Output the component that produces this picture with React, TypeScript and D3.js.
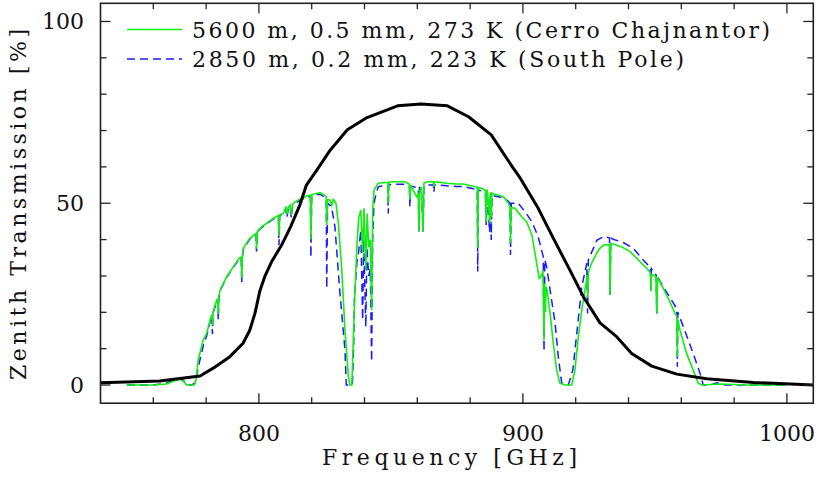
import React from "react";
import * as d3 from "d3";

// Filter / reference transmission (black)
const filterCurve: [number, number][] = [
  [740, 0.6], [762.5, 1.1], [777.7, 2.5], [783.5, 5], [789, 7.8], [794, 11.5], [796.5, 15],
  [798.5, 19.7], [800.3, 25.7], [802.2, 29.8], [804.8, 33.9], [808.6, 38.5], [812, 43.5],
  [815.5, 49.5], [818, 55], [822, 59.2], [827, 64.6], [833.5, 70.2],
  [840.5, 73.4], [852.5, 76.8], [861.4, 77.3], [871.4, 76.8], [879.4, 73.8], [888, 68.8],
  [896, 60], [899, 56.9], [905.8, 48.6], [911.5, 40.4], [917.8, 31.6], [922.9, 24.3],
  [929.2, 17.1], [935.5, 13.3], [941.2, 8.7], [948.8, 5.2], [958.3, 3], [969.6, 1.7],
  [987.3, 0.7], [1010, 0],
];

// 5600 m, 0.5 mm, 273 K (Cerro Chajnantor) — green
const chajnantor: [number, number][] = [
  [750, 0], [760, 0], [765, 0.3], [768, 1.2], [770, 1.6], [771.5, 1.0], [772.6, 0], [775.5, 0],
  [776.2, 1.5], [777, 6.9], [778.9, 12.4], [780.2, 14.2], [781.6, 18], [782.2, 19.4], [782.45, 16.5],
  [782.7, 20.2], [783.4, 22], [784.3, 23.8], [784.6, 19.5], [784.9, 24.5], [785.3, 26.1], [787.8, 29.8],
  [790.3, 32.5], [792.6, 34.9], [793.3, 35.2], [793.5, 29.5], [793.8, 36.2], [794.1, 37.6], [796.6, 40.4],
  [798.9, 41.7], [799.1, 37.5], [799.4, 42.2], [801, 43.5], [803, 44.5], [805.5, 45.9], [807.4, 46.6],
  [807.6, 41], [807.9, 46.9], [809.3, 47.2], [810.2, 49], [810.6, 47], [811.1, 48.8], [811.8, 49.5],
  [812.3, 46.8], [812.8, 49.8], [813.7, 50.4], [816.2, 51.3], [818.1, 52], [819.5, 52.2], [819.7, 40],
  [820, 52.4], [820.6, 52.5], [823.1, 52.9], [824.6, 52.3], [825.5, 51.8], [825.7, 44], [826, 51],
  [826.9, 50.9], [827.6, 49.5], [828.2, 51], [829.2, 50], [830.1, 44.5], [831.4, 31.6], [832.6, 15.1],
  [833.9, 2.3], [834.5, 0], [835.2, 0], [835.4, 4.1], [836.2, 22.5], [837.1, 38], [837.8, 46],
  [838.6, 48.1], [839.3, 36.3], [839.8, 48.6], [840.5, 31.6], [841, 47.2], [841.6, 38], [842.2, 40],
  [842.7, 20.6], [843.1, 48.1], [843.6, 53.6], [845.2, 55.5], [847.8, 55.7], [848.8, 55.7], [849, 50],
  [849.2, 55.8], [850.9, 55.9], [855.3, 55.9], [857, 55.2], [857.2, 51], [857.5, 55], [858.5, 53.5],
  [859.8, 51.8], [860.4, 52.5], [860.6, 42.2], [860.8, 53], [861.5, 54.5], [862.2, 42.2], [862.5, 55.5],
  [863.6, 55.9], [866.1, 55.9], [866.3, 54.5], [866.5, 55.9], [868, 55.8], [871.1, 55.5], [874.9, 55.3],
  [877.4, 55.3], [881.2, 54.7], [882.7, 54.5], [882.9, 37.7], [883.1, 54.3], [884.4, 54.1], [885.8, 53.5],
  [886.1, 45], [886.4, 53.8], [887, 50], [887.4, 44.5], [887.7, 53], [888, 46], [888.3, 52.8],
  [889.4, 52.5], [892.6, 51.8], [894.5, 50], [895.1, 49], [895.3, 39], [895.6, 48.8], [897, 48.6],
  [899.5, 46.3], [901.4, 44.9], [903.4, 41.3], [905, 34.4], [906.2, 29.3], [907, 30], [907.6, 31.5],
  [908, 12.4], [908.2, 28], [908.5, 20], [908.8, 27], [909.2, 26], [910.3, 19.7], [911.5, 11.5],
  [912.8, 4.1], [914, 0.5], [915.9, 0], [918.5, 0], [919.7, 4.1], [921, 13.3], [922.3, 20.6],
  [923.5, 26.1], [924.4, 30.2], [924.6, 24], [924.8, 31], [926, 33.5], [927.9, 36.2], [929.2, 37.6],
  [930.5, 38.5], [932.8, 38.6], [933, 24.8], [933.3, 38.8], [934.2, 38.8], [937.4, 38], [940.6, 36.7],
  [944.4, 33.9], [947.5, 31.6], [948.3, 31], [948.5, 25.7], [948.7, 30.5], [950.4, 29.8], [950.7, 19.7],
  [951, 29.3], [951.9, 28.4], [955.1, 23.8], [957.6, 19.7], [958.3, 19], [958.5, 7.8], [958.7, 18],
  [959.5, 15.1], [962, 8.7], [964.5, 4.1], [966.4, 0.5], [967.7, 0], [975, 0.3], [985, 0], [1000, 0],
];

// 2850 m, 0.2 mm, 223 K (South Pole) — blue dashed
const southPole: [number, number][] = [
  [750, 0], [760, 0], [765, 0.5], [768, 1.6], [770, 1.8], [771.5, 1.2], [772.6, 0.2], [774.5, 0],
  [775.8, 0.5], [776.8, 4], [778, 8], [779, 11], [780.2, 13.5], [782.1, 19.2], [782.4, 14], [782.7, 20],
  [783.4, 21.5], [784.3, 23.5], [784.6, 17.9], [784.9, 24.3], [785.3, 26], [787.8, 29.6], [790.3, 32.4],
  [792.6, 34.7], [793.3, 35], [793.5, 28], [793.8, 35.5], [794.1, 37.3], [796.6, 40.2], [798.9, 41.5],
  [799.1, 36.7], [799.4, 42], [801, 43.3], [803, 44.3], [805.5, 45.7], [807.4, 46.4], [807.6, 38.5],
  [807.9, 46.7], [809.3, 47], [810.2, 48.5], [810.6, 46], [811.1, 48.3], [811.8, 49], [812.3, 46],
  [812.8, 49.5], [813.7, 50], [816.2, 51], [818.1, 51.7], [819.5, 51.9], [819.7, 35.1], [820, 52.1],
  [820.6, 52.3], [823.1, 52.5], [824.6, 51.8], [825.5, 51], [825.7, 26.6], [826, 50], [826.9, 49.5],
  [827.5, 49], [828, 47], [828.8, 43.5], [830.7, 25.3], [832.6, 9.6], [833.1, 0], [835.4, 0],
  [835.9, 10.7], [836.2, 24.3], [837.1, 33.5], [837.7, 36.2], [838.6, 42.6], [839.3, 17.9], [839.7, 40],
  [840.5, 16], [840.9, 38], [841.6, 30], [842.2, 32], [842.7, 6.4], [843.1, 40], [843.6, 50],
  [844.5, 53], [845.2, 54.5], [847.8, 55], [848.8, 55], [849, 47.2], [849.2, 55.1], [850.9, 55.2],
  [855.3, 55.2], [857, 54.8], [857.2, 49], [857.5, 54.6], [858.5, 54.6], [860.4, 54], [860.6, 42.2],
  [860.8, 54.3], [861.5, 54.5], [862.2, 42.2], [862.5, 54.8], [863.6, 55], [866.1, 55], [866.3, 53],
  [866.5, 55], [868, 55], [871.1, 54.8], [874.9, 54.6], [877.4, 54.6], [881.2, 54], [882.7, 53.8],
  [882.9, 31.2], [883.1, 53.6], [884.4, 53.4], [885.8, 52.8], [886.1, 44], [886.4, 52.8], [887.4, 42],
  [887.7, 52.5], [888, 39.9], [888.3, 52.2], [889.4, 52], [892.6, 51.5], [894.5, 50.5], [895.1, 50],
  [895.3, 35.8], [895.6, 50], [897, 50], [898, 50.2], [900.8, 47.7], [903.4, 44.9], [905.8, 40.8],
  [907.7, 35.3], [908, 9.2], [908.3, 34.5], [909, 32.5], [910.3, 26.1], [912.2, 17], [913.4, 7.8],
  [914.7, 0.5], [917.2, 0], [918.9, 4.1], [920.4, 14.2], [922.3, 27], [924.2, 33.5], [924.5, 19.7],
  [924.8, 34.5], [926.7, 37.6], [928, 39.8], [930.5, 40.8], [932.8, 40.5], [933, 24.8], [933.3, 40.5],
  [934.2, 40.1], [938, 39.2], [941.8, 37.6], [945.6, 34.4], [948.3, 32.3], [948.5, 25.7], [948.7, 32],
  [950.5, 30.2], [950.7, 19.7], [950.9, 29.8], [953.2, 27], [957, 22.5], [958.3, 21], [958.5, 5],
  [958.7, 20], [960.8, 16], [964.5, 8.7], [967.1, 3.2], [968.3, 0], [971, 0], [973.4, 0.6], [976, 0],
  [1000, 0],
];

const xMajorTicks = [800, 900, 1000];
const xMinorTicks = [760, 780, 820, 840, 860, 880, 920, 940, 960, 980];
const yMajorTicks = [0, 50, 100];
const yMinorTicks = [10, 20, 30, 40, 60, 70, 80, 90];

const legendLabels = [
  "5600 m, 0.5 mm, 273 K (Cerro Chajnantor)",
  "2850 m, 0.2 mm, 223 K (South Pole)",
];

const W = 822;
const H = 481;
const L = 100.5;
const R = 813.3;
const T = 3.3;
const B = 403.2;

const FONT = "'DejaVu Serif', serif";
const GREEN = "#11ee11";
const BLUE = "#1a1aff";

export default function App() {
  const x = d3.scaleLinear().domain([740, 1010]).range([L, R]);
  const y = d3.scaleLinear().domain([-5, 105]).range([B, T]);
  const line = d3
    .line<[number, number]>()
    .x((d) => x(d[0]))
    .y((d) => y(d[1]));

  const MAJ = 10;
  const MIN = 6;

  return (
    <svg
      width={W}
      height={H}
      style={{ position: "fixed", left: 0, top: 0, background: "#fff" }}
      xmlns="http://www.w3.org/2000/svg"
    >
      <rect x={0} y={0} width={W} height={H} fill="#fff" />
      <defs>
        <clipPath id="plotclip">
          <rect x={L} y={T} width={R - L} height={B - T} />
        </clipPath>
      </defs>

      <g clipPath="url(#plotclip)">
        <path
          d={line(southPole) || ""}
          fill="none"
          stroke={BLUE}
          strokeWidth={1.5}
          strokeDasharray="8,5"
        />
        <path d={line(chajnantor) || ""} fill="none" stroke={GREEN} strokeWidth={1.6} />
        <path
          d={line(filterCurve) || ""}
          fill="none"
          stroke="#000"
          strokeWidth={3}
          strokeLinejoin="round"
        />
      </g>

      {/* frame */}
      <rect x={L} y={T} width={R - L} height={B - T} fill="none" stroke="#222" strokeWidth={1.6} />

      {/* ticks */}
      <g stroke="#222" strokeWidth={1.3}>
        {xMajorTicks.map((t) => (
          <g key={"xM" + t}>
            <line x1={x(t)} x2={x(t)} y1={B} y2={B - MAJ} />
            <line x1={x(t)} x2={x(t)} y1={T} y2={T + MAJ} />
          </g>
        ))}
        {xMinorTicks.map((t) => (
          <g key={"xm" + t}>
            <line x1={x(t)} x2={x(t)} y1={B} y2={B - MIN} />
            <line x1={x(t)} x2={x(t)} y1={T} y2={T + MIN} />
          </g>
        ))}
        {yMajorTicks.map((t) => (
          <g key={"yM" + t}>
            <line x1={L} x2={L + MAJ} y1={y(t)} y2={y(t)} />
            <line x1={R} x2={R - MAJ} y1={y(t)} y2={y(t)} />
          </g>
        ))}
        {yMinorTicks.map((t) => (
          <g key={"ym" + t}>
            <line x1={L} x2={L + MIN} y1={y(t)} y2={y(t)} />
            <line x1={R} x2={R - MIN} y1={y(t)} y2={y(t)} />
          </g>
        ))}
      </g>

      {/* tick labels */}
      <g fontFamily={FONT} fontSize={22} fill="#111">
        {xMajorTicks.map((t) => (
          <text key={"xl" + t} x={x(t)} y={441} textAnchor="middle">
            {t}
          </text>
        ))}
        {yMajorTicks.map((t) => (
          <text key={"yl" + t} x={84} y={y(t) + 8} textAnchor="end">
            {t}
          </text>
        ))}
      </g>

      {/* axis titles */}
      <text
        x={322}
        y={465}
        fontFamily={FONT}
        fontSize={22}
        fill="#111"
        textLength={255}
        lengthAdjust="spacing"
      >
        Frequency [GHz]
      </text>
      <text
        transform="translate(26,380) rotate(-90)"
        x={0}
        y={0}
        fontFamily={FONT}
        fontSize={22}
        fill="#111"
        textLength={351}
        lengthAdjust="spacing"
      >
        Zenith Transmission [%]
      </text>

      {/* legend */}
      <line x1={127} x2={182} y1={29.5} y2={29.5} stroke={GREEN} strokeWidth={1.6} />
      <line
        x1={127}
        x2={182}
        y1={59}
        y2={59}
        stroke={BLUE}
        strokeWidth={1.5}
        strokeDasharray="8,5"
      />
      <text
        x={192}
        y={37.5}
        fontFamily={FONT}
        fontSize={22}
        fill="#111"
        textLength={578}
        lengthAdjust="spacing"
      >
        {legendLabels[0]}
      </text>
      <text
        x={192}
        y={67}
        fontFamily={FONT}
        fontSize={22}
        fill="#111"
        textLength={492}
        lengthAdjust="spacing"
      >
        {legendLabels[1]}
      </text>
    </svg>
  );
}
